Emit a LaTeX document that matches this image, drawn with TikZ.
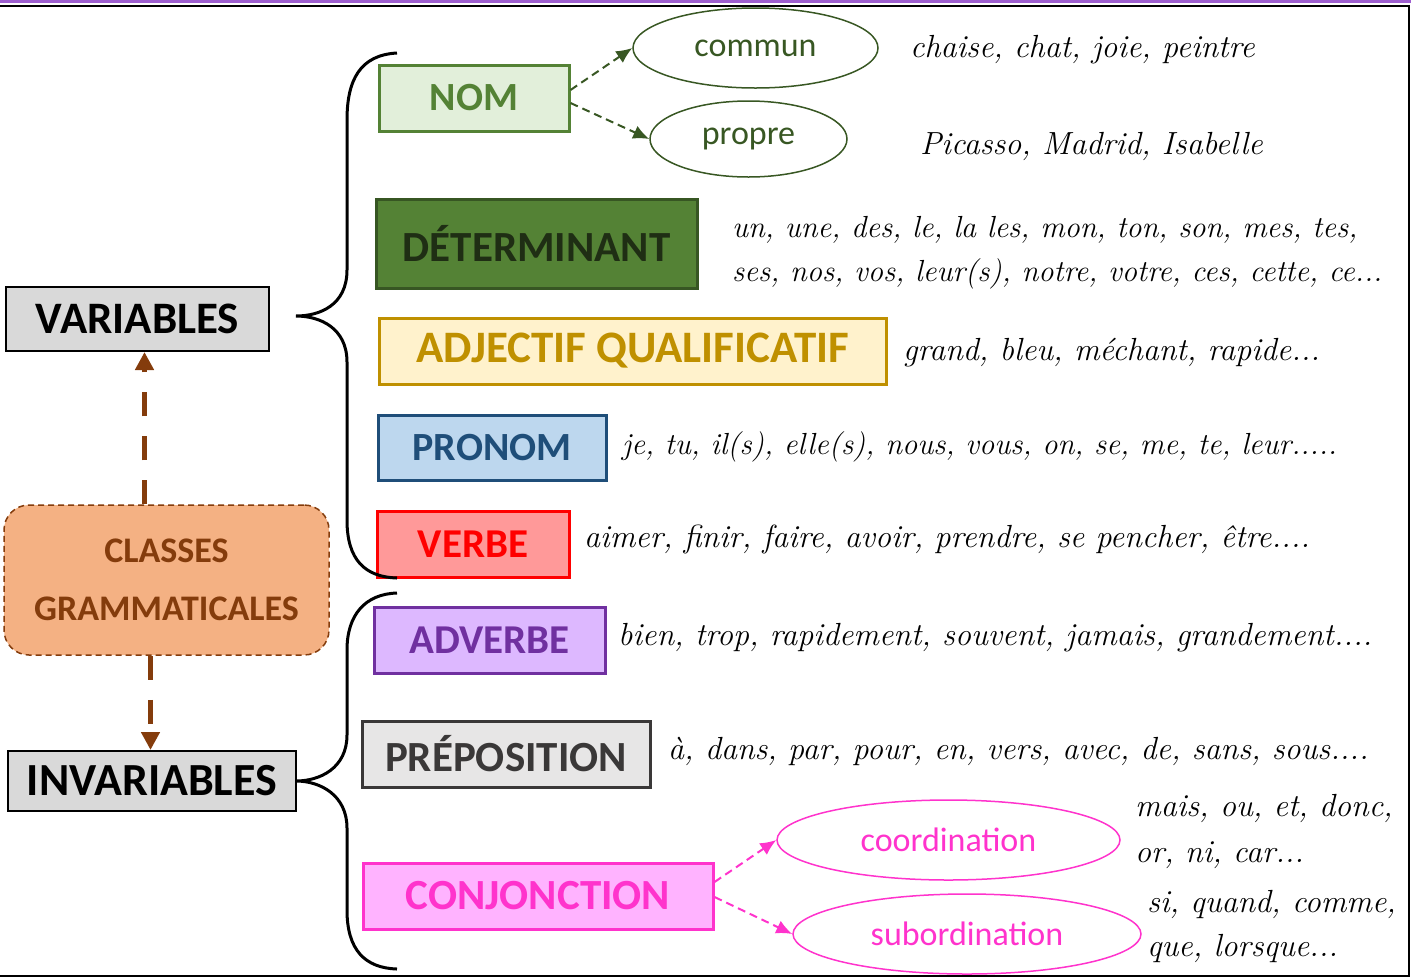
\documentclass[tikz,border=0pt]{standalone}
\usepackage{fontspec}
\setmainfont{Carlito}
\newfontfamily\handfont{Latin Modern Roman}
\usetikzlibrary{shapes.geometric,arrows.meta}
\definecolor{nomfill}{HTML}{E2EFDA}
\definecolor{nomline}{HTML}{548235}
\definecolor{nomdark}{HTML}{385723}
\definecolor{detline}{HTML}{375623}
\definecolor{dettext}{HTML}{1F2E14}
\definecolor{adjfill}{HTML}{FFF2CC}
\definecolor{adjline}{HTML}{BF9000}
\definecolor{profill}{HTML}{BDD7EE}
\definecolor{proline}{HTML}{1F4E79}
\definecolor{verfill}{HTML}{FF9999}
\definecolor{advfill}{HTML}{DDB8FF}
\definecolor{advline}{HTML}{7030A0}
\definecolor{prefill}{HTML}{E7E6E6}
\definecolor{preline}{HTML}{3A3838}
\definecolor{conjfill}{HTML}{FFB3FF}
\definecolor{conjline}{HTML}{FF33CC}
\definecolor{grisfill}{HTML}{D9D9D9}
\definecolor{clafill}{HTML}{F4B183}
\definecolor{claline}{HTML}{843C0C}
\definecolor{cadre}{HTML}{9E5FCF}
\tikzset{
	classe/.style={draw, line width=3pt, inner sep=0pt, font=\bfseries\fontsize{#1}{#1}\selectfont},
	classe/.default=41,
	sorte/.style={ellipse, draw, line width=1.5pt, inner sep=0pt, font=\fontsize{34}{38}\selectfont},
	exemple/.style={anchor=base west, inner sep=0pt, font=\handfont\itshape\fontsize{#1}{34}\selectfont},
	exemple/.default=32,
	fleche/.style={line width=2pt, dash pattern=on 8pt off 5pt, -{Latex[length=16pt,width=14pt]}},
	lien/.style={claline, line width=5pt, dash pattern=on 24pt off 20pt, -{Triangle[length=18pt,width=18pt]}},
	accolade/.style={line width=3pt}
}
\begin{document}
\begin{tikzpicture}[x=1pt,y=-1pt]
	\useasboundingbox (0,0) rectangle (1411,978);
	\draw[cadre, line width=3pt] (0,1) -- (1411,1);
	\draw[line width=2.5pt] (0,6) -- (1409,6) -- (1409,976) -- (0,976);
	\node[classe=40, fill=nomfill, draw=nomline, text=nomline, minimum width=190, minimum height=66] (nom) at (474,98) {NOM};
	\node[classe=43, fill=nomline, draw=detline, text=dettext, minimum width=321, minimum height=89] (det) at (536.5,243.5) {DÉTERMINANT};
	\node[classe=45, fill=adjfill, draw=adjline, text=adjline, minimum width=507, minimum height=66] (adj) at (632.5,351) {ADJECTIF QUALIFICATIF};
	\node[classe=40, fill=profill, draw=proline, text=proline, minimum width=228, minimum height=65] (pronom) at (492,447.5) {PRONOM};
	\node[classe, fill=verfill, draw=red, text=red, minimum width=192, minimum height=66] (verbe) at (473,544) {VERBE};
	\node[classe, fill=advfill, draw=advline, text=advline, minimum width=231, minimum height=66] (adverbe) at (489.5,640) {ADVERBE};
	\node[classe=43, fill=prefill, draw=preline, text=preline, minimum width=288, minimum height=66] (prep) at (506,754) {PRÉPOSITION};
	\node[classe=43, fill=conjfill, draw=conjline, text=conjline, minimum width=350, minimum height=66] (conj) at (538,896) {CONJONCTION};
	\node[classe=45, fill=grisfill, line width=2pt, minimum width=263, minimum height=64] (var) at (137.5,319) {VARIABLES};
	\node[classe=46, fill=grisfill, line width=2pt, minimum width=288, minimum height=60] (invar) at (152,781) {INVARIABLES};
	\node[fill=clafill, draw=claline, text=claline, line width=1.5pt, dash pattern=on 6pt off 4pt, rounded corners=25pt, inner sep=0pt, minimum width=325, minimum height=150, align=center, font=\bfseries\fontsize{36}{58}\selectfont] (classes) at (166.5,580) {CLASSES\\GRAMMATICALES};
	\node[sorte, draw=nomdark, text=nomdark, minimum width=245, minimum height=80] (commun) at (755.5,48) {commun};
	\node[sorte, draw=nomdark, text=nomdark, minimum width=197, minimum height=76] (propre) at (748.5,139) {propre};
	\node[sorte, draw=conjline, text=conjline, minimum width=343, minimum height=80] (coord) at (948.5,840) {coordination};
	\node[sorte, draw=conjline, text=conjline, minimum width=348, minimum height=80] (subord) at (967,934) {subordination};
	\draw[fleche, nomdark] ([yshift=8pt]nom.east) -- (commun.west);
	\draw[fleche, nomdark] ([yshift=-5pt]nom.east) -- (propre.west);
	\draw[fleche, conjline] ([yshift=14pt]conj.east) -- (coord.west);
	\draw[fleche, conjline] ([yshift=-1pt]conj.east) -- (subord.west);
	\draw[lien] ([xshift=-22pt]classes.north) -- ([xshift=-22pt]classes.north |- var.south);
	\draw[lien] ([xshift=-16pt]classes.south) -- ([xshift=-16pt]classes.south |- invar.north);
	\draw[accolade] (397,53) .. controls (360,55) and (347,80) .. (347,120) -- (347,270) .. controls (347,305) and (320,316) .. (296,316) .. controls (320,316) and (347,328) .. (347,362) -- (347,520) .. controls (347,560) and (365,577) .. (397,578);
	\draw[accolade] (397,593) .. controls (365,594) and (347,615) .. (347,650) -- (347,735) .. controls (347,768) and (320,781) .. (296,781) .. controls (320,781) and (347,795) .. (347,828) -- (347,910) .. controls (347,950) and (365,968) .. (397,969);
	\node[exemple] (excommun) at (910,57) {chaise, chat, joie, peintre};
	\node[exemple] (expropre) at (920,154) {Picasso, Madrid, Isabelle};
	\node[exemple=30.5] (exdet1) at (732,237) {un, une, des, le, la les, mon, ton, son, mes, tes,};
	\node[exemple=30.5] (exdet2) at (732,281) {ses, nos, vos, leur(s), notre, votre, ces, cette, ce...};
	\node[exemple] (exadj) at (903,360) {grand, bleu, méchant, rapide...};
	\node[exemple=30.5] (expronom) at (622,454) {je, tu, il(s), elle(s), nous, vous, on, se, me, te, leur.....};
	\node[exemple] (exverbe) at (584,547) {aimer, finir, faire, avoir, prendre, se pencher, être....};
	\node[exemple] (exadverbe) at (618,645) {bien, trop, rapidement, souvent, jamais, grandement....};
	\node[exemple] (exprep) at (668,759) {à, dans, par, pour, en, vers, avec, de, sans, sous....};
	\node[exemple] (excoord1) at (1135,816) {mais, ou, et, donc,};
	\node[exemple] (excoord2) at (1135,862) {or, ni, car...};
	\node[exemple] (exsubord1) at (1147,912) {si, quand, comme,};
	\node[exemple] (exsubord2) at (1147,956) {que, lorsque...};
\end{tikzpicture}
\end{document}
